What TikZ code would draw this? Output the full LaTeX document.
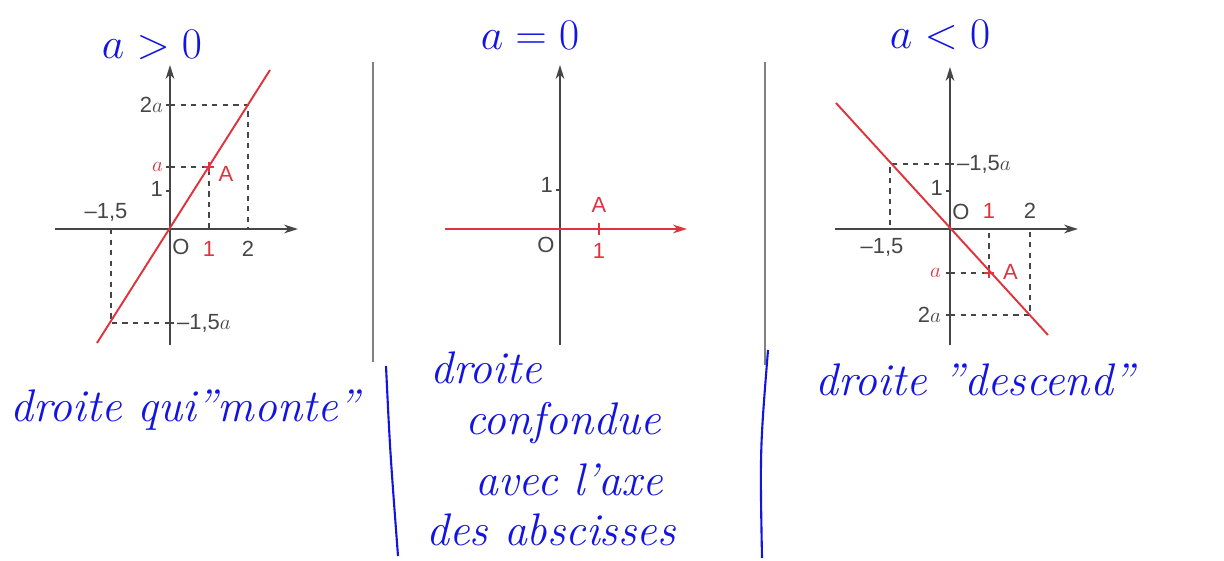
\documentclass[tikz,border=0pt]{standalone}
\usepackage{fontspec}
\setsansfont{Liberation Sans}
\usetikzlibrary{arrows.meta}
\definecolor{penblue}{RGB}{20,20,225}
\definecolor{linered}{RGB}{222,52,62}
\definecolor{axisgray}{RGB}{70,70,70}

\begin{document}
\begin{tikzpicture}[
    x=0.02cm, y=-0.02cm,
    >={Stealth[length=8pt,width=5pt]},
    axis/.style={->, axisgray, line width=1pt},
    guide/.style={dashed, axisgray, line width=0.6pt},
    graph/.style={linered, line width=1.1pt},
    tick/.style={axisgray, line width=0.6pt},
    lab/.style={font=\sffamily\fontsize{12.5}{14}\selectfont, text=axisgray, inner sep=1pt},
    redlab/.style={lab, text=linered},
    hand/.style={text=penblue, font=\itshape\fontsize{26}{30}\selectfont, inner sep=0pt, anchor=west},
    sep/.style={gray, line width=1.2pt},
    pen/.style={penblue, line width=1.2pt}
  ]
  \useasboundingbox (0,0) rectangle (1224,561);

  % a > 0
  \coordinate (O1) at (170,229);
  \coordinate (A1) at (209,167);
  \coordinate (P1) at (248,105);
  \coordinate (Q1) at (111,323);
  \draw[guide] (O1 |- P1) -- (P1) -- (P1 |- O1);
  \draw[guide] (O1 |- A1) -- (A1) -- (A1 |- O1);
  \draw[guide] (Q1 |- O1) -- (Q1) -- (O1 |- Q1);
  \draw[axis] (55,229) -- (298,229);
  \draw[axis] (170,345) -- (170,65);
  \draw[tick] (166,105) -- (170,105) (166,167) -- (170,167) (166,191) -- (170,191) (170,323) -- (174,323);
  \draw[graph] (97,343) -- (270,70);
  \draw[linered, line width=0.8pt] (A1) ++(-5,0) -- ++(10,0) (A1) ++(0,-5) -- ++(0,10);
  \node[lab, anchor=east]    (l2a1)  at (165,105) {2$a$};
  \node[redlab, anchor=east] (la1)   at (165,167) {$a$};
  \node[lab, anchor=east]    (l11)   at (165,189) {1};
  \node[lab, anchor=west]    (lm15a1) at (175,323) {\textendash1,5$a$};
  \node[lab]                 (lm151) at (106,212) {\textendash1,5};
  \node[lab]                 (lO1)   at (181,247) {O};
  \node[redlab]              (lx11)  at (209,249) {1};
  \node[lab]                 (lx21)  at (248,249) {2};
  \node[redlab]              (lA1)   at (226,174) {A};

  % a = 0
  \coordinate (O2) at (560,229);
  \coordinate (A2) at (599,229);
  \draw[axis] (560,345) -- (560,65);
  \draw[graph, ->] (445,229) -- (687,229);
  \draw[tick] (556,190) -- (560,190);
  \draw[linered, line width=0.8pt] (A2) ++(0,-6) -- ++(0,12);
  \node[lab, anchor=east] (l12) at (555,185) {1};
  \node[lab]              (lO2) at (546,245) {O};
  \node[redlab]           (lA2) at (599,205) {A};
  \node[redlab]           (lx12) at (599,251) {1};

  % a < 0
  \coordinate (O3) at (950,229);
  \coordinate (A3) at (989,273);
  \coordinate (P3) at (1030,315);
  \coordinate (Q3) at (890,164);
  \draw[guide] (O3 |- Q3) -- (Q3) -- (Q3 |- O3);
  \draw[guide] (O3 |- A3) -- (A3) -- (A3 |- O3);
  \draw[guide] (O3 |- P3) -- (P3) -- (P3 |- O3);
  \draw[axis] (835,229) -- (1078,229);
  \draw[axis] (950,345) -- (950,67);
  \draw[tick] (950,164) -- (954,164) (946,191) -- (950,191) (946,273) -- (950,273) (946,315) -- (950,315);
  \draw[graph] (836,103) -- (1048,335);
  \draw[linered, line width=0.8pt] (A3) ++(-5,0) -- ++(10,0) (A3) ++(0,-5) -- ++(0,10);
  \node[lab, anchor=west]    (lm15a3) at (955,164) {\textendash1,5$a$};
  \node[lab, anchor=east]    (l13)   at (945,188) {1};
  \node[lab]                 (lO3)   at (961,212) {O};
  \node[redlab]              (lx13)  at (989,211) {1};
  \node[lab]                 (lx23)  at (1030,211) {2};
  \node[lab]                 (lm153) at (882,247) {\textendash1,5};
  \node[redlab, anchor=east] (la3)   at (943,273) {$a$};
  \node[redlab, anchor=west] (lA3)   at (1001,272) {A};
  \node[lab, anchor=east]    (l2a3)  at (943,315) {2$a$};

  % separators
  \draw[sep] (373,62) -- (373,362);
  \draw[sep] (765,62) -- (765,365);

  % handwriting
  \node[hand, anchor=center] (h1) at (152,45) {$a>0$};
  \node[hand, anchor=center] (h2) at (530,35) {$a=0$};
  \node[hand, anchor=center] (h3) at (940,35) {$a<0$};
  \node[hand] (t1)  at (10,410)  {droite qui"monte"};
  \node[hand] (t2a) at (430,368) {droite};
  \node[hand] (t2b) at (465,423) {confondue};
  \node[hand] (t2c) at (475,480) {avec l'axe};
  \node[hand] (t2d) at (426,530) {des abscisses};
  \node[hand] (t3)  at (815,380) {droite "descend"};
  \draw[pen] (386,366) .. controls (390,450) .. (398,556);
  \draw[pen] (768,350) .. controls (760,450) .. (762,558);
\end{tikzpicture}
\end{document}
